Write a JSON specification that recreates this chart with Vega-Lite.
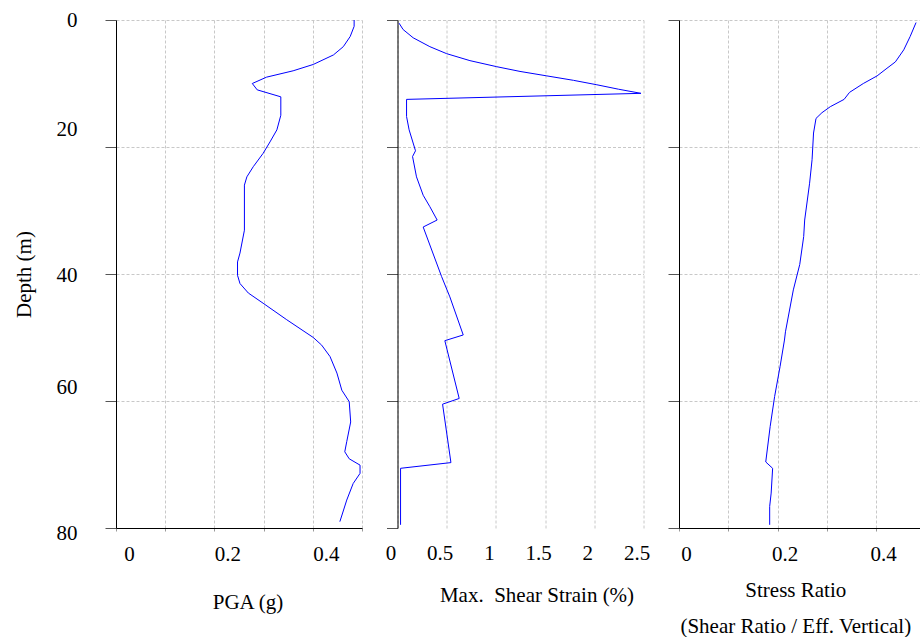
{
  "$schema": "https://vega.github.io/schema/vega-lite/v6.json",
  "background": "white",
  "padding": {"left": 13, "top": 9, "right": 0, "bottom": 0},
  "spacing": 35.5,
  "bounds": "flush",
  "config": {
    "view": {"stroke": null},
    "font": "Liberation Serif",
    "axis": {
      "labelFont": "Liberation Serif",
      "titleFont": "Liberation Serif",
      "labelFontSize": 21,
      "titleFontSize": 21,
      "labelColor": "black",
      "titleColor": "black",
      "titleFontWeight": "normal",
      "gridColor": "#c8c8c8",
      "gridDash": [3, 2],
      "gridWidth": 1,
      "domainColor": "black",
      "domainWidth": 1,
      "tickColor": "#555555",
      "labelFlush": false,
      "labelOverlap": false
    }
  },
  "datasets": {
    "pga": [
      {"depth": 0, "value": 0.484}, {"depth": 1, "value": 0.484}, {"depth": 2.6, "value": 0.476},
      {"depth": 4.2, "value": 0.462}, {"depth": 5.5, "value": 0.442}, {"depth": 7, "value": 0.401},
      {"depth": 8, "value": 0.36}, {"depth": 9, "value": 0.306}, {"depth": 10, "value": 0.277},
      {"depth": 11, "value": 0.287}, {"depth": 12.1, "value": 0.335}, {"depth": 15, "value": 0.335},
      {"depth": 17.3, "value": 0.327}, {"depth": 19.2, "value": 0.313}, {"depth": 21, "value": 0.299},
      {"depth": 23.1, "value": 0.279}, {"depth": 24.7, "value": 0.266}, {"depth": 26, "value": 0.261},
      {"depth": 33.1, "value": 0.261}, {"depth": 36.7, "value": 0.252}, {"depth": 38.1, "value": 0.247},
      {"depth": 40.2, "value": 0.247}, {"depth": 41.5, "value": 0.252}, {"depth": 43, "value": 0.269},
      {"depth": 44.6, "value": 0.299}, {"depth": 47.2, "value": 0.347}, {"depth": 50, "value": 0.401},
      {"depth": 51.2, "value": 0.418}, {"depth": 53, "value": 0.435}, {"depth": 55.6, "value": 0.449},
      {"depth": 58.3, "value": 0.459}, {"depth": 60.1, "value": 0.474}, {"depth": 63.3, "value": 0.477},
      {"depth": 66.4, "value": 0.469}, {"depth": 68, "value": 0.465}, {"depth": 69.1, "value": 0.474},
      {"depth": 70.1, "value": 0.496}, {"depth": 71.4, "value": 0.496}, {"depth": 73, "value": 0.482},
      {"depth": 75.6, "value": 0.469}, {"depth": 79, "value": 0.455}
    ],
    "strain": [
      {"depth": 0.5, "value": 0.016}, {"depth": 1.5, "value": 0.057}, {"depth": 2.8, "value": 0.159},
      {"depth": 4.2, "value": 0.329}, {"depth": 5.3, "value": 0.499}, {"depth": 6.4, "value": 0.736},
      {"depth": 7.35, "value": 1.008}, {"depth": 8.1, "value": 1.245}, {"depth": 8.8, "value": 1.517},
      {"depth": 9.5, "value": 1.788}, {"depth": 10.2, "value": 2.026}, {"depth": 10.9, "value": 2.246},
      {"depth": 11.55, "value": 2.474}, {"depth": 12.5, "value": 0.092}, {"depth": 15.2, "value": 0.092},
      {"depth": 17.3, "value": 0.118}, {"depth": 20.6, "value": 0.183}, {"depth": 21.5, "value": 0.153},
      {"depth": 24.7, "value": 0.193}, {"depth": 27.6, "value": 0.261}, {"depth": 29.4, "value": 0.329},
      {"depth": 31.5, "value": 0.403}, {"depth": 32.6, "value": 0.261}, {"depth": 40.4, "value": 0.448},
      {"depth": 43.6, "value": 0.532}, {"depth": 49.6, "value": 0.668}, {"depth": 50.5, "value": 0.481},
      {"depth": 59.6, "value": 0.627}, {"depth": 60.5, "value": 0.458}, {"depth": 69.7, "value": 0.543},
      {"depth": 70.6, "value": 0.031}, {"depth": 79.5, "value": 0.031}
    ],
    "ratio": [
      {"depth": 0.4, "value": 0.481}, {"depth": 2.6, "value": 0.469}, {"depth": 4.7, "value": 0.456},
      {"depth": 6.6, "value": 0.439}, {"depth": 7.6, "value": 0.422}, {"depth": 8.8, "value": 0.402},
      {"depth": 10, "value": 0.374}, {"depth": 11.4, "value": 0.346}, {"depth": 12.5, "value": 0.335},
      {"depth": 13.65, "value": 0.307}, {"depth": 14.6, "value": 0.29}, {"depth": 15.5, "value": 0.278},
      {"depth": 17.8, "value": 0.273}, {"depth": 22, "value": 0.27}, {"depth": 25.7, "value": 0.265},
      {"depth": 31.5, "value": 0.255}, {"depth": 34.1, "value": 0.253}, {"depth": 38.5, "value": 0.245},
      {"depth": 42.5, "value": 0.232}, {"depth": 49.1, "value": 0.216}, {"depth": 50.4, "value": 0.214},
      {"depth": 54.6, "value": 0.205}, {"depth": 59.3, "value": 0.194}, {"depth": 64, "value": 0.185},
      {"depth": 69.6, "value": 0.176}, {"depth": 70.6, "value": 0.19}, {"depth": 74.5, "value": 0.187},
      {"depth": 76.6, "value": 0.184}, {"depth": 79.5, "value": 0.184}
    ]
  },
  "hconcat": [
    {
      "width": 246,
      "height": 508,
      "data": {"name": "pga"},
      "mark": {"type": "line", "color": "#0000ff", "strokeWidth": 1},
      "encoding": {
        "x": {
          "field": "value", "type": "quantitative",
          "scale": {"domain": [0, 0.5], "nice": false, "zero": false},
          "axis": {
            "values": [0, 0.1, 0.2, 0.3, 0.4, 0.5],
            "labelExpr": "datum.value == 0 ? '0' : datum.value == 0.2 ? '0.2' : datum.value == 0.4 ? '0.4' : ''",
            "tickSize": 3, "tickColor": "#999999", "labelPadding": 12.5, "labelOffset": 13,
            "title": "PGA (g)", "titleX": 131.5, "titleY": 80, "titleBaseline": "alphabetic", "titleAlign": "center"
          }
        },
        "y": {
          "field": "depth", "type": "quantitative",
          "scale": {"domain": [0, 80], "reverse": true, "nice": false, "zero": false},
          "axis": {
            "values": [0, 20, 40, 60, 80],
            "tickSize": 11, "labelPadding": 28,
            "labelOffset": {"condition": [
              {"test": "datum.value == 20", "value": -18},
              {"test": "datum.value == 60", "value": -14},
              {"test": "datum.value == 80", "value": 5},
              {"test": "datum.value == 40", "value": 1.5}
            ], "value": 0.5},
            "title": "Depth (m)", "titlePadding": 22
          }
        },
        "order": {"field": "depth", "type": "quantitative"}
      }
    },
    {
      "width": 246,
      "height": 508,
      "data": {"name": "strain"},
      "mark": {"type": "line", "color": "#0000ff", "strokeWidth": 1},
      "encoding": {
        "x": {
          "field": "value", "type": "quantitative",
          "scale": {"domain": [0, 2.5], "nice": false, "zero": false},
          "axis": {
            "values": [0, 0.5, 1, 1.5, 2, 2.5],
            "format": "~g",
            "domain": false, "ticks": false, "labelPadding": 14.5, "labelOffset": -7,
            "title": "Max.\u00a0 Shear Strain (%)", "titleX": 139, "titleY": 73.5, "titleBaseline": "alphabetic", "titleAlign": "center"
          }
        },
        "y": {
          "field": "depth", "type": "quantitative",
          "scale": {"domain": [0, 80], "reverse": true, "nice": false, "zero": false},
          "axis": {
            "values": [0, 20, 40, 60, 80],
            "tickSize": 11, "labels": false, "title": null,
            "gridOpacity": {"condition": {"test": "datum.value == 80", "value": 0}, "value": 1}
          }
        },
        "order": {"field": "depth", "type": "quantitative"}
      }
    },
    {
      "width": 241,
      "height": 508,
      "data": {"name": "ratio"},
      "mark": {"type": "line", "color": "#0000ff", "strokeWidth": 1},
      "encoding": {
        "x": {
          "field": "value", "type": "quantitative",
          "scale": {"domain": [0, 0.489], "nice": false, "zero": false},
          "axis": {
            "values": [0, 0.1, 0.2, 0.3, 0.4],
            "labelExpr": "datum.value == 0 ? '0' : datum.value == 0.2 ? '0.2' : datum.value == 0.4 ? '0.4' : ''",
            "tickSize": 3, "tickColor": "#999999", "labelPadding": 12.5, "labelOffset": 7,
            "title": ["Stress Ratio", "(Shear Ratio / Eff. Vertical)"],
            "titleLineHeight": 36,
            "titleX": 116.3, "titleY": 68.5, "titleBaseline": "alphabetic", "titleAlign": "center"
          }
        },
        "y": {
          "field": "depth", "type": "quantitative",
          "scale": {"domain": [0, 80], "reverse": true, "nice": false, "zero": false},
          "axis": {
            "values": [0, 20, 40, 60, 80],
            "tickSize": 11, "labels": false, "title": null
          }
        },
        "order": {"field": "depth", "type": "quantitative"}
      }
    }
  ]
}
